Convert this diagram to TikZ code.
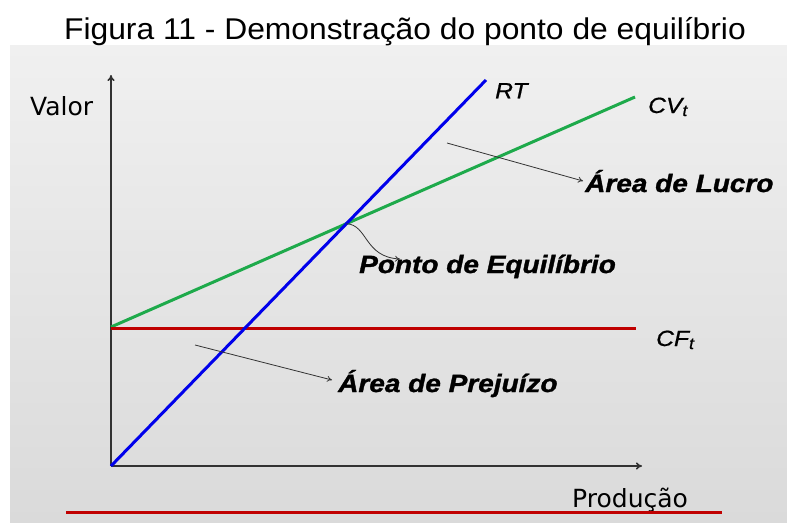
\documentclass[tikz,border=0pt]{standalone}
\usepackage{fontspec}
\setmainfont{Liberation Sans}
\newfontfamily\comicfont{DejaVu Sans}
\newfontface\itfont[FakeBold=0.6]{Liberation Sans Italic}
\newfontface\bifont[FakeBold=1.2]{Liberation Sans Bold Italic}
\usetikzlibrary{arrows.meta}
\definecolor{rtblue}{RGB}{0,0,235}
\definecolor{cvgreen}{RGB}{30,170,75}
\definecolor{cfred}{RGB}{192,0,0}
\definecolor{axisgray}{RGB}{50,50,50}
\definecolor{bgtop}{RGB}{240,240,240}
\definecolor{bgbot}{RGB}{218,218,218}
\tikzset{
  axisline/.style={draw=axisgray,line width=1.5pt,-{To[length=6pt,width=7pt]}},
  curveline/.style={line width=3pt},
  note/.style={draw=black!80,line width=0.8pt,-{To[length=5pt,width=6pt]}},
  boldlabel/.style={inner sep=0pt,anchor=base west,font=\fontsize{25}{25}\bifont},
  curvelabel/.style={inner sep=0pt,anchor=base west,font=\fontsize{22}{22}\itfont},
  axislabel/.style={inner sep=0pt,anchor=base west,font=\fontsize{25}{25}\comicfont},
}
\newcommand{\widetxt}[1]{\scalebox{1.12}[1]{#1}}
\newcommand{\subt}{{\fontsize{16}{16}\selectfont\raisebox{-3pt}{t}}}
\begin{document}
\begin{tikzpicture}[x=1pt,y=-1pt]
\useasboundingbox (0,0) rectangle (787,522);
\fill[white] (0,0) rectangle (787,522);
\shade[top color=bgtop,bottom color=bgbot] (10,45) rectangle (787,522);
\node[inner sep=0pt,anchor=base,font=\fontsize{30}{30}\selectfont] (title) at (405,39.5) {\scalebox{1.06}[1]{Figura 11 - Demonstração do ponto de equilíbrio}};

% coordinates
\coordinate (O) at (111,466);
\coordinate (ytip) at (111,75);
\coordinate (xtip) at (642,466);
\coordinate (rtend) at (486,80);
\coordinate (cvstart) at (111,327);
\coordinate (cvend) at (635,97);
\coordinate (cfstart) at (111,328);
\coordinate (cfend) at (636,328);
\coordinate (bl1) at (66,512);
\coordinate (bl2) at (722,512);
\coordinate (eq) at (intersection of O--rtend and cvstart--cvend);
\coordinate (lucrotail) at (447,143);
\coordinate (prejtail) at (195,345);

% labels
\node[axislabel] (valor) at (30,115) {Valor};
\node[axislabel] (producao) at (572,507) {Produção};
\node[curvelabel] (rt) at (495,98.3) {\widetxt{RT}};
\node[curvelabel] (cv) at (648,113) {\widetxt{CV\subt}};
\node[curvelabel] (cf) at (656,346) {\widetxt{CF\subt}};
\node[boldlabel] (lucro) at (585,192) {\widetxt{Área de Lucro}};
\node[boldlabel] (ponto) at (359,273) {\widetxt{Ponto de Equilíbrio}};
\node[boldlabel] (prej) at (338,392) {\widetxt{Área de Prejuízo}};

% bottom red line
\draw[cfred,line width=3pt] (bl1) -- (bl2);

% axes
\draw[axisline] (O) -- (ytip);
\draw[axisline] (O) -- (xtip);

% curves
\draw[curveline,cvgreen] (cvstart) -- (cvend);
\draw[curveline,cfred] (cfstart) -- (cfend);
\draw[curveline,rtblue] (O) -- (rtend);

% annotation arrows
\draw[note] (lucrotail) -- ([shift={(-2pt,11pt)}]lucro.base west);
\draw[note] (prejtail) -- ([shift={(-6pt,12pt)}]prej.base west);
\draw[note] (eq) .. controls (368,225) and (364,257) .. ([shift={(41pt,14pt)}]ponto.base west);
\end{tikzpicture}
\end{document}
